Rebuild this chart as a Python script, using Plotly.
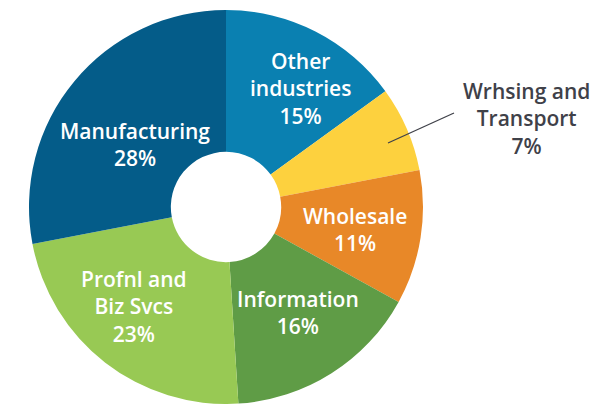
import plotly.graph_objects as go

# Employment share by industry, clockwise from 12 o'clock
sectors = ["Other industries", "Wrhsing and Transport", "Wholesale",
           "Information", "Profnl and Biz Svcs", "Manufacturing"]
display_names = ["Other<br>industries", "Wrhsing and<br>Transport", "Wholesale",
                 "Information", "Profnl and<br>Biz Svcs", "Manufacturing"]
shares = [15, 7, 11, 16, 23, 28]
colors = ["#0a80b1", "#fdd13e", "#e88828", "#5f9c46", "#98c954", "#045c89"]

W, H = 595, 404
M_TOP = 10

fig = go.Figure(go.Pie(
    labels=sectors,
    values=shares,
    sort=False,
    direction="clockwise",
    rotation=0,
    hole=0.28,
    marker=dict(colors=colors, line=dict(width=0)),
    textinfo="none",
    hoverinfo="label+percent",
    showlegend=False,
    domain=dict(x=[(226 - 197) / W, (226 + 197) / W], y=[0, 1]),
))

# Label anchor points (pixel centres of each text block)
label_px = {
    "Other industries": (300, 88),
    "Wrhsing and Transport": (526, 118),
    "Wholesale": (355, 229),
    "Information": (298, 312),
    "Profnl and Biz Svcs": (134, 306),
    "Manufacturing": (135, 144),
}


def to_paper(px, py):
    return px / W, (H - py) / (H - M_TOP)


for name, disp, val in zip(sectors, display_names, shares):
    px, py = label_px[name]
    x, y = to_paper(px, py)
    outside = name == "Wrhsing and Transport"
    fig.add_annotation(
        x=x, y=y, xref="paper", yref="paper",
        text=f"{disp}<br>{val}%",
        showarrow=False, xanchor="center", yanchor="middle", align="center",
        font=dict(family="Open Sans", size=21, weight=600,
                  color="#3f4149" if outside else "#ffffff"),
    )

# Leader line for the small slice
x0, y0 = to_paper(388, 143)
x1, y1 = to_paper(454, 113)
fig.add_shape(type="line", xref="paper", yref="paper",
              x0=x0, y0=y0, x1=x1, y1=y1,
              line=dict(color="#3f4149", width=1.3))

fig.update_layout(
    width=W, height=H,
    margin=dict(l=0, r=0, t=M_TOP, b=0),
    paper_bgcolor="#ffffff",
    plot_bgcolor="#ffffff",
)

fig.write_html("out.html")
